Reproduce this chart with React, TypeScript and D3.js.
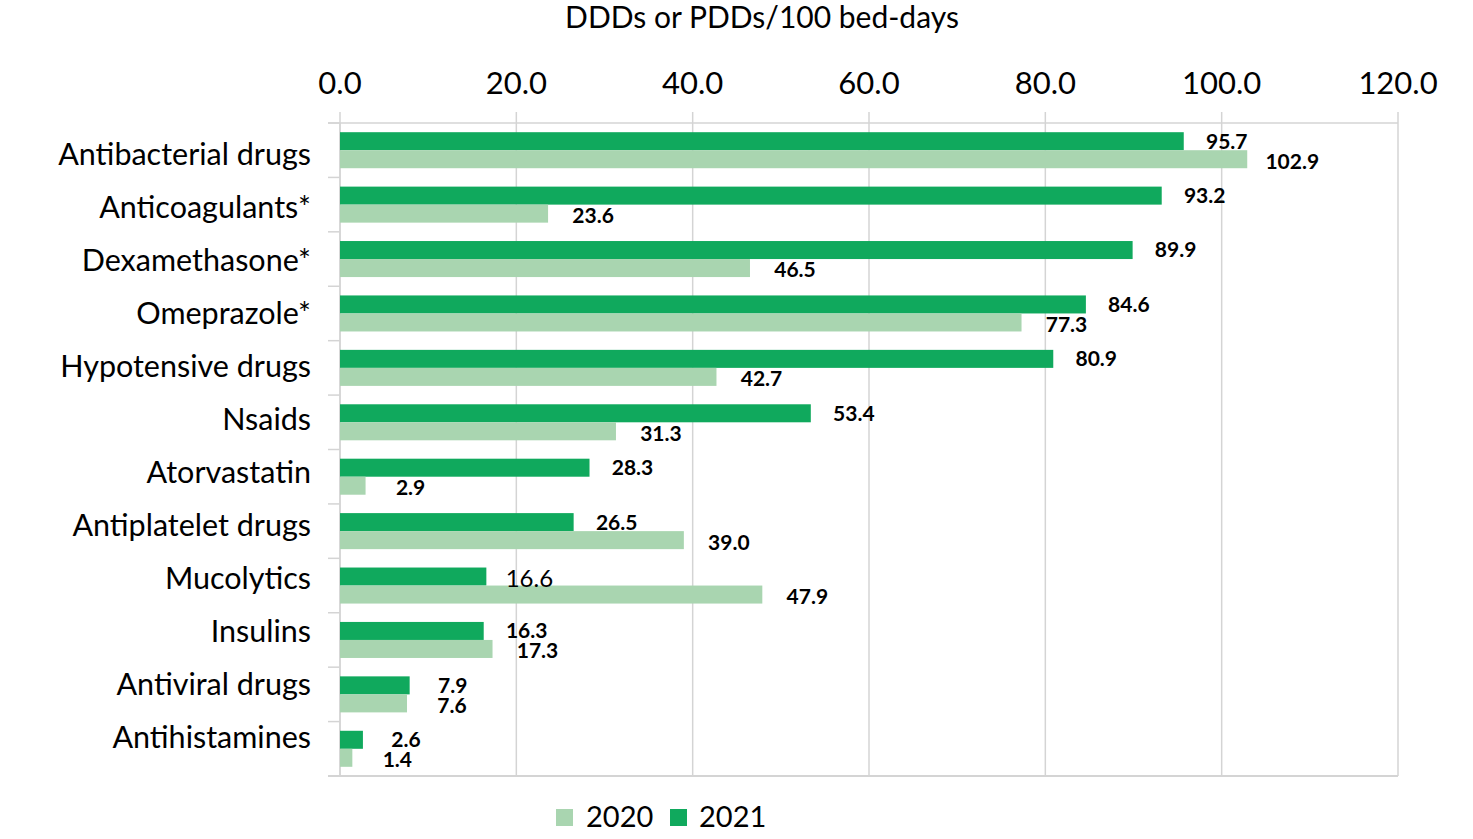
import React from "react";
import * as d3 from "d3";

const categories = [
  "Antibacterial drugs",
  "Anticoagulants*",
  "Dexamethasone*",
  "Omeprazole*",
  "Hypotensive drugs",
  "Nsaids",
  "Atorvastatin",
  "Antiplatelet drugs",
  "Mucolytics",
  "Insulins",
  "Antiviral drugs",
  "Antihistamines",
];
const values2021 = [95.7, 93.2, 89.9, 84.6, 80.9, 53.4, 28.3, 26.5, 16.6, 16.3, 7.9, 2.6];
const values2020 = [102.9, 23.6, 46.5, 77.3, 42.7, 31.3, 2.9, 39.0, 47.9, 17.3, 7.6, 1.4];
const xTicks = [0, 20, 40, 60, 80, 100, 120];
const seriesNames = ["2021", "2020"];
const title = "DDDs or PDDs/100 bed-days";

const W = 1473;
const H = 839;
const C2021 = "#10A95D";
const C2020 = "#A9D5B0";
const GRID = "#d4d4d4";
const FONT = "Lato, 'Open Sans', sans-serif";

export default function App() {
  const left = 340, right = 1398, top = 123, bottom = 776;
  const x = d3.scaleLinear().domain([0, 120]).range([left, right]);
  const y0 = d3
    .scaleBand<string>()
    .domain(categories)
    .range([top, bottom])
    .paddingInner(0.338)
    .paddingOuter(0.169);
  const y1 = d3.scaleBand<string>().domain(seriesNames).range([0, y0.bandwidth()]);
  const yLabel = d3.scalePoint<string>().domain(categories).range([157, 740]);
  const step = y0.step();
  const boundaries = d3.range(categories.length + 1).map((i) => top + i * step);

  const rows = categories.map((c, i) => ({ c, v21: values2021[i], v20: values2020[i] }));

  return (
    <svg
      width={W}
      height={H}
      style={{ position: "absolute", left: 0, top: 0, background: "#fff" }}
      fontFamily={FONT}
    >
      <text x={762} y={20} textAnchor="middle" dominantBaseline="middle" fontSize={30} fill="#000">
        {title}
      </text>
      {xTicks.map((t) => (
        <g key={t}>
          <line x1={x(t)} x2={x(t)} y1={112} y2={bottom} stroke={GRID} strokeWidth={1.5} />
          <text x={x(t)} y={86} textAnchor="middle" dominantBaseline="middle" fontSize={31} fill="#000">
            {d3.format(".1f")(t)}
          </text>
        </g>
      ))}
      <line x1={328} x2={right} y1={top} y2={top} stroke={GRID} strokeWidth={1.5} />
      <line x1={328} x2={right} y1={bottom} y2={bottom} stroke={GRID} strokeWidth={2} />
      {boundaries.map((b, i) => (
        <line key={i} x1={328} x2={left} y1={b} y2={b} stroke={GRID} strokeWidth={1.5} />
      ))}
      <line x1={left} x2={left} y1={top} y2={bottom} stroke={GRID} strokeWidth={1.5} />
      {rows.map((r) => {
        const by = y0(r.c)!;
        const yA = by + y1("2021")!;
        const yB = by + y1("2020")!;
        const bh = y1.bandwidth();
        const mucolytic = r.c === "Mucolytics";
        return (
          <g key={r.c}>
            <text
              x={311}
              y={yLabel(r.c)!}
              textAnchor="end"
              dominantBaseline="middle"
              fontSize={30.5}
              fill="#000"
            >
              {r.c}
            </text>
            <rect x={x(0)} y={yA} width={x(r.v21) - x(0)} height={bh} fill={C2021} />
            <rect x={x(0)} y={yB} width={x(r.v20) - x(0)} height={bh} fill={C2020} />
            <text
              x={x(r.v21) + 43}
              y={yA + bh / 2 + (mucolytic ? 4 : 2)}
              textAnchor="middle"
              dominantBaseline="middle"
              fontSize={mucolytic ? 24 : 21}
              fontWeight={mucolytic ? 400 : 700}
              fill="#000"
            >
              {d3.format(".1f")(r.v21)}
            </text>
            <text
              x={x(r.v20) + 45}
              y={yB + bh / 2 + 4}
              textAnchor="middle"
              dominantBaseline="middle"
              fontSize={21}
              fontWeight={700}
              fill="#000"
            >
              {d3.format(".1f")(r.v20)}
            </text>
          </g>
        );
      })}
      <g>
        <rect x={556} y={809} width={17} height={17} fill={C2020} />
        <text x={586} y={820} dominantBaseline="middle" fontSize={29} fill="#000">2020</text>
        <rect x={670} y={809} width={17} height={17} fill={C2021} />
        <text x={699} y={820} dominantBaseline="middle" fontSize={29} fill="#000">2021</text>
      </g>
    </svg>
  );
}
